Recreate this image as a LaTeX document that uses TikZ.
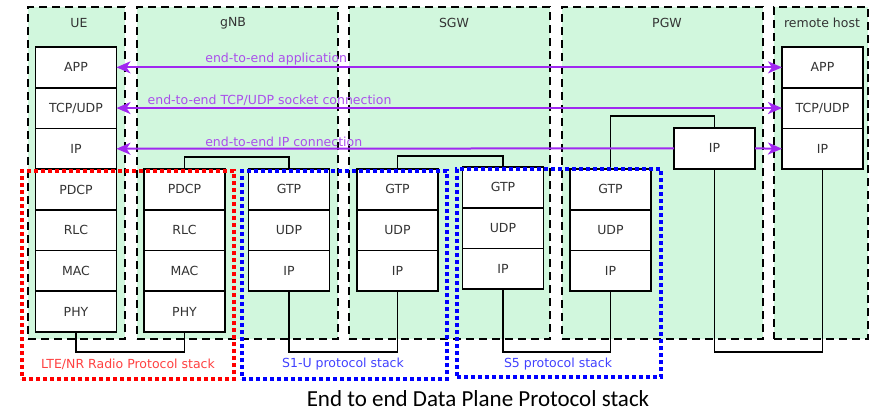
\documentclass[tikz,border=0pt]{standalone}
\usepackage{fontspec}
\setmainfont{DejaVu Sans}
\newfontfamily\capfont{Carlito}
\usepackage{tikz}
\usetikzlibrary{arrows.meta,positioning}
\definecolor{hostgreen}{RGB}{209,247,221}
\definecolor{e2epurple}{RGB}{160,40,240}
\definecolor{e2etext}{RGB}{170,80,235}
\definecolor{labelgray}{RGB}{51,51,51}
\definecolor{stackred}{RGB}{255,0,0}
\definecolor{stackblue}{RGB}{0,0,255}
\tikzset{
  host/.style={draw, fill=hostgreen, line width=2pt, dash pattern=on 8pt off 5pt,
    anchor=north west, minimum height=332pt, inner sep=0pt, outer sep=0pt},
  hostname/.style={font=\fontsize{12.5}{15}\selectfont, text=labelgray},
  layer/.style={draw, fill=white, line width=1.7pt, minimum width=81pt, minimum height=40.7pt,
    inner sep=0pt, outer sep=0pt, font=\fontsize{12.5}{15}\selectfont, text=labelgray},
  link/.style={draw, line width=1.7pt},
  e2e/.style={e2epurple, line width=2pt},
  e2elabel/.style={text=e2etext, font=\fontsize{12.5}{15}\selectfont, above, inner sep=1pt},
  radiostack/.style={draw=stackred, line width=4pt, dash pattern=on 4pt off 3pt,
    anchor=north west, inner sep=0pt},
  corestack/.style={draw=stackblue, line width=4pt, dash pattern=on 4pt off 3pt,
    anchor=north west, inner sep=0pt},
  stacklabel/.style={font=\fontsize{12.5}{15}\selectfont}
}
\begin{document}
\begin{tikzpicture}[x=1pt, y=-1pt, node distance=0pt,
  >={Stealth[length=14pt, width=12pt, inset=4pt]}]
  \useasboundingbox (0,0) rectangle (871,413);
  \node[host, minimum width=97pt] (uebox) at (28,7) {};
  \node[host, minimum width=201pt] (gnbbox) at (137,7) {};
  \node[host, minimum width=201pt] (sgwbox) at (349,7) {};
  \node[host, minimum width=201pt] (pgwbox) at (562,7) {};
  \node[host, minimum width=94pt] (rhbox) at (774,7) {};
  \node[hostname] (uename) at (79,23) {UE};
  \node[hostname] (gnbname) at (233,23) {gNB};
  \node[hostname] (sgwname) at (454,23) {SGW};
  \node[hostname] (pgwname) at (667,23) {PGW};
  \node[hostname] (rhname) at (822,23) {remote host};

  \node[layer, anchor=north] (ueapp) at (76,47) {APP};
  \node[layer, below=of ueapp] (uetcp) {TCP/UDP};
  \node[layer, below=of uetcp] (ueip) {IP};
  \node[layer, below=of ueip] (uepdcp) {PDCP};
  \node[layer, below=of uepdcp] (uerlc) {RLC};
  \node[layer, below=of uerlc] (uemac) {MAC};
  \node[layer, below=of uemac] (uephy) {PHY};

  \node[layer, anchor=north] (gnbpdcp) at (184.5,169) {PDCP};
  \node[layer, below=of gnbpdcp] (gnbrlc) {RLC};
  \node[layer, below=of gnbrlc] (gnbmac) {MAC};
  \node[layer, below=of gnbmac] (gnbphy) {PHY};
  \node[layer, anchor=north] (gnbgtp) at (289,169) {GTP};
  \node[layer, below=of gnbgtp] (gnbudp) {UDP};
  \node[layer, below=of gnbudp] (gnbip) {IP};

  \node[layer, anchor=north] (sgwgtpa) at (397.5,169) {GTP};
  \node[layer, below=of sgwgtpa] (sgwudpa) {UDP};
  \node[layer, below=of sgwudpa] (sgwipa) {IP};
  \node[layer, anchor=north] (sgwgtpb) at (503,167) {GTP};
  \node[layer, below=of sgwgtpb] (sgwudpb) {UDP};
  \node[layer, below=of sgwudpb] (sgwipb) {IP};

  \node[layer, anchor=north] (pgwgtp) at (610.5,169) {GTP};
  \node[layer, below=of pgwgtp] (pgwudp) {UDP};
  \node[layer, below=of pgwudp] (pgwip) {IP};
  \node[layer, anchor=north] (pgwroute) at (714.5,128) {IP};

  \node[layer, anchor=north] (rhapp) at (822.5,47) {APP};
  \node[layer, below=of rhapp] (rhtcp) {TCP/UDP};
  \node[layer, below=of rhtcp] (rhip) {IP};

  \coordinate (bus) at (0,352);
  \draw[link] (uephy.south) -- (uephy.south |- bus) -| (gnbphy.south);
  \draw[link] (gnbpdcp.north) -- ++(0,-12) -| (gnbgtp.north);
  \draw[link] (gnbip.south) -- (gnbip.south |- bus) -| (sgwipa.south);
  \draw[link] (sgwgtpa.north) -- ++(0,-13) -| (sgwgtpb.north);
  \draw[link] (sgwipb.south) -- (sgwipb.south |- bus) -| (pgwip.south);
  \draw[link] (pgwgtp.north) -- ++(0,-53) -| (pgwroute.north);
  \draw[link] (pgwroute.south) -- (pgwroute.south |- bus) -| (rhip.south);

  \draw[e2e, <->] (ueapp.east) -- node[e2elabel, pos=0.24] (applabel) {end-to-end application} (rhapp.west);
  \draw[e2e, <->] (uetcp.east) -- node[e2elabel, pos=0.23] (tcplabel) {end-to-end TCP/UDP socket connection} (rhtcp.west);
  \draw[e2e, <-] (ueip.east) -- node[e2elabel, pos=0.30] (iplabel) {end-to-end IP connection} (pgwroute.west);
  \draw[e2e, ->] (pgwroute.east) -- (rhip.west);

  \node[radiostack, minimum width=212pt, minimum height=208pt] (radio) at (20,169) {};
  \node[corestack, minimum width=205pt, minimum height=208pt] (sone) at (240,169) {};
  \node[corestack, minimum width=204pt, minimum height=208pt] (sfive) at (455,167) {};
  \node[stacklabel, text=stackred!75] (radiolabel) at (128,364) {LTE/NR Radio Protocol stack};
  \node[stacklabel, text=stackblue!75] (sonelabel) at (343,364) {S1-U protocol stack};
  \node[stacklabel, text=stackblue!75] (sfivelabel) at (558,364) {S5 protocol stack};

  \node[font=\capfont\fontsize{23}{27}\selectfont, inner sep=0pt] (caption) at (478,399) {End to end Data Plane Protocol stack};
\end{tikzpicture}
\end{document}
